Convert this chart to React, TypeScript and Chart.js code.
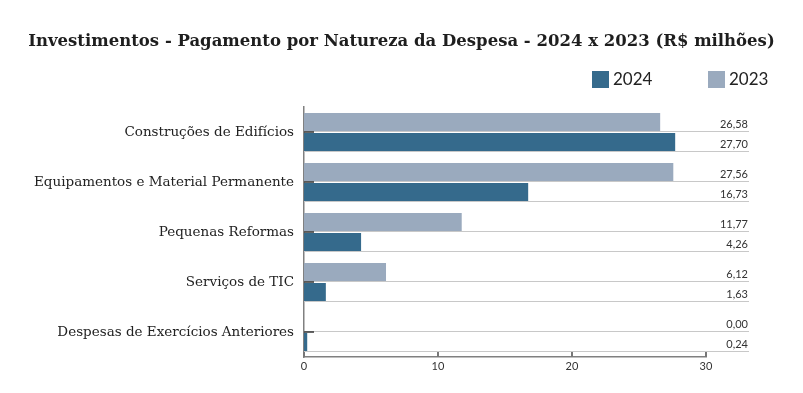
import React, { useEffect, useRef } from "react";
import { Chart, registerables } from "chart.js";
Chart.register(...registerables);

const categories = [
  "Construções de Edifícios",
  "Equipamentos e Material Permanente",
  "Pequenas Reformas",
  "Serviços de TIC",
  "Despesas de Exercícios Anteriores",
];
const values2023 = [26.58, 27.56, 11.77, 6.12, 0.0];
const values2024 = [27.7, 16.73, 4.26, 1.63, 0.24];
const xTickValues = [0, 10, 20, 30];
const seriesNames = ["2023", "2024"];
const seriesColors = ["#9aaabe", "#356a8c"];
const titleText =
  "Investimentos - Pagamento por Natureza da Despesa - 2024 x 2023 (R$ milhões)";

const fmt = (v: number) => v.toFixed(2).replace(".", ",");

const LABEL_RIGHT = 740;
const LINE_RIGHT = 741;

const decorPlugin = {
  id: "decor",
  beforeDatasetsDraw(chart: any) {
    const ctx = chart.ctx;
    const area = chart.chartArea;
    ctx.save();
    ctx.strokeStyle = "#c8c8c8";
    ctx.lineWidth = 1;
    chart.data.datasets.forEach((_: any, di: number) => {
      const meta = chart.getDatasetMeta(di);
      meta.data.forEach((bar: any) => {
        const { y, height } = bar.getProps(["y", "height"], true);
        const yb = Math.round(y + height / 2) + 0.5;
        ctx.beginPath();
        ctx.moveTo(area.left, yb);
        ctx.lineTo(LINE_RIGHT, yb);
        ctx.stroke();
      });
    });
    ctx.restore();
  },
  afterDatasetsDraw(chart: any) {
    const ctx = chart.ctx;
    ctx.save();
    ctx.font = "11px Lato";
    ctx.fillStyle = "#333";
    ctx.textAlign = "right";
    ctx.textBaseline = "bottom";
    chart.data.datasets.forEach((ds: any, di: number) => {
      const meta = chart.getDatasetMeta(di);
      meta.data.forEach((bar: any, i: number) => {
        const { y, height } = bar.getProps(["y", "height"], true);
        const yb = y + height / 2;
        ctx.fillText(fmt(ds.data[i]), LABEL_RIGHT, yb - 1);
      });
    });
    ctx.restore();
  },
  afterDraw(chart: any) {
    const ctx = chart.ctx;
    const area = chart.chartArea;
    const ys = chart.scales.y;
    const xs = chart.scales.x;
    ctx.save();
    ctx.strokeStyle = "#333";
    ctx.lineWidth = 1.5;
    ys.ticks.forEach((_: any, i: number) => {
      const py = Math.round(ys.getPixelForTick(i));
      ctx.beginPath();
      ctx.moveTo(area.left, py);
      ctx.lineTo(area.left + 10, py);
      ctx.stroke();
    });
    ctx.strokeStyle = "#777";
    ctx.lineWidth = 2;
    xTickValues.forEach((v) => {
      const px = Math.round(xs.getPixelForValue(v));
      ctx.beginPath();
      ctx.moveTo(px, area.bottom);
      ctx.lineTo(px, area.bottom - 5);
      ctx.stroke();
    });
    ctx.font = "17px Lato";
    ctx.textAlign = "left";
    ctx.textBaseline = "middle";
    const items = [
      { name: seriesNames[1], color: seriesColors[1], x: 584 },
      { name: seriesNames[0], color: seriesColors[0], x: 700 },
    ];
    items.forEach((it) => {
      ctx.fillStyle = it.color;
      ctx.fillRect(it.x, 63, 17, 17);
      ctx.fillStyle = "#222";
      ctx.fillText(it.name, it.x + 21, 72);
    });
    ctx.restore();
  },
};

export default function App() {
  const ref = useRef<HTMLCanvasElement | null>(null);
  useEffect(() => {
    if (!ref.current) return;
    const chart = new Chart(ref.current, {
      type: "bar",
      data: {
        labels: categories,
        datasets: [
          {
            label: seriesNames[0],
            data: values2023,
            backgroundColor: seriesColors[0],
            categoryPercentage: 0.8,
            barPercentage: 0.9,
          },
          {
            label: seriesNames[1],
            data: values2024,
            backgroundColor: seriesColors[1],
            categoryPercentage: 0.8,
            barPercentage: 0.9,
          },
        ],
      },
      options: {
        indexAxis: "y",
        animation: false,
        responsive: true,
        maintainAspectRatio: false,
        plugins: {
          legend: { display: false },
          tooltip: { enabled: false },
          title: {
            display: true,
            text: titleText,
            color: "#1e1e1e",
            font: { family: "DejaVu Serif", size: 16.5, weight: "bold" },
            padding: { top: 23.5, bottom: 55.7 },
          },
        },
        scales: {
          x: {
            min: 0,
            max: 30,
            grid: { display: false, drawTicks: false },
            border: { display: true, color: "#808080", width: 1.5 },
            ticks: {
              stepSize: 10,
              padding: 3,
              color: "#333",
              font: { family: "Lato", size: 11 },
            },
            afterFit(scale: any) {
              scale.paddingRight = 89;
              scale.height = 28;
            },
          },
          y: {
            grid: { display: false, drawTicks: false },
            border: { display: true, color: "#808080", width: 1.5 },
            ticks: {
              padding: 10,
              color: "#222",
              font: { family: "DejaVu Serif", size: 13.5 },
            },
            afterFit(scale: any) {
              scale.width = 296;
            },
          },
        },
      },
      plugins: [decorPlugin],
    });
    return () => chart.destroy();
  }, []);
  return (
    <div style={{ position: "relative", width: 787, height: 377 }}>
      <canvas ref={ref} />
    </div>
  );
}
